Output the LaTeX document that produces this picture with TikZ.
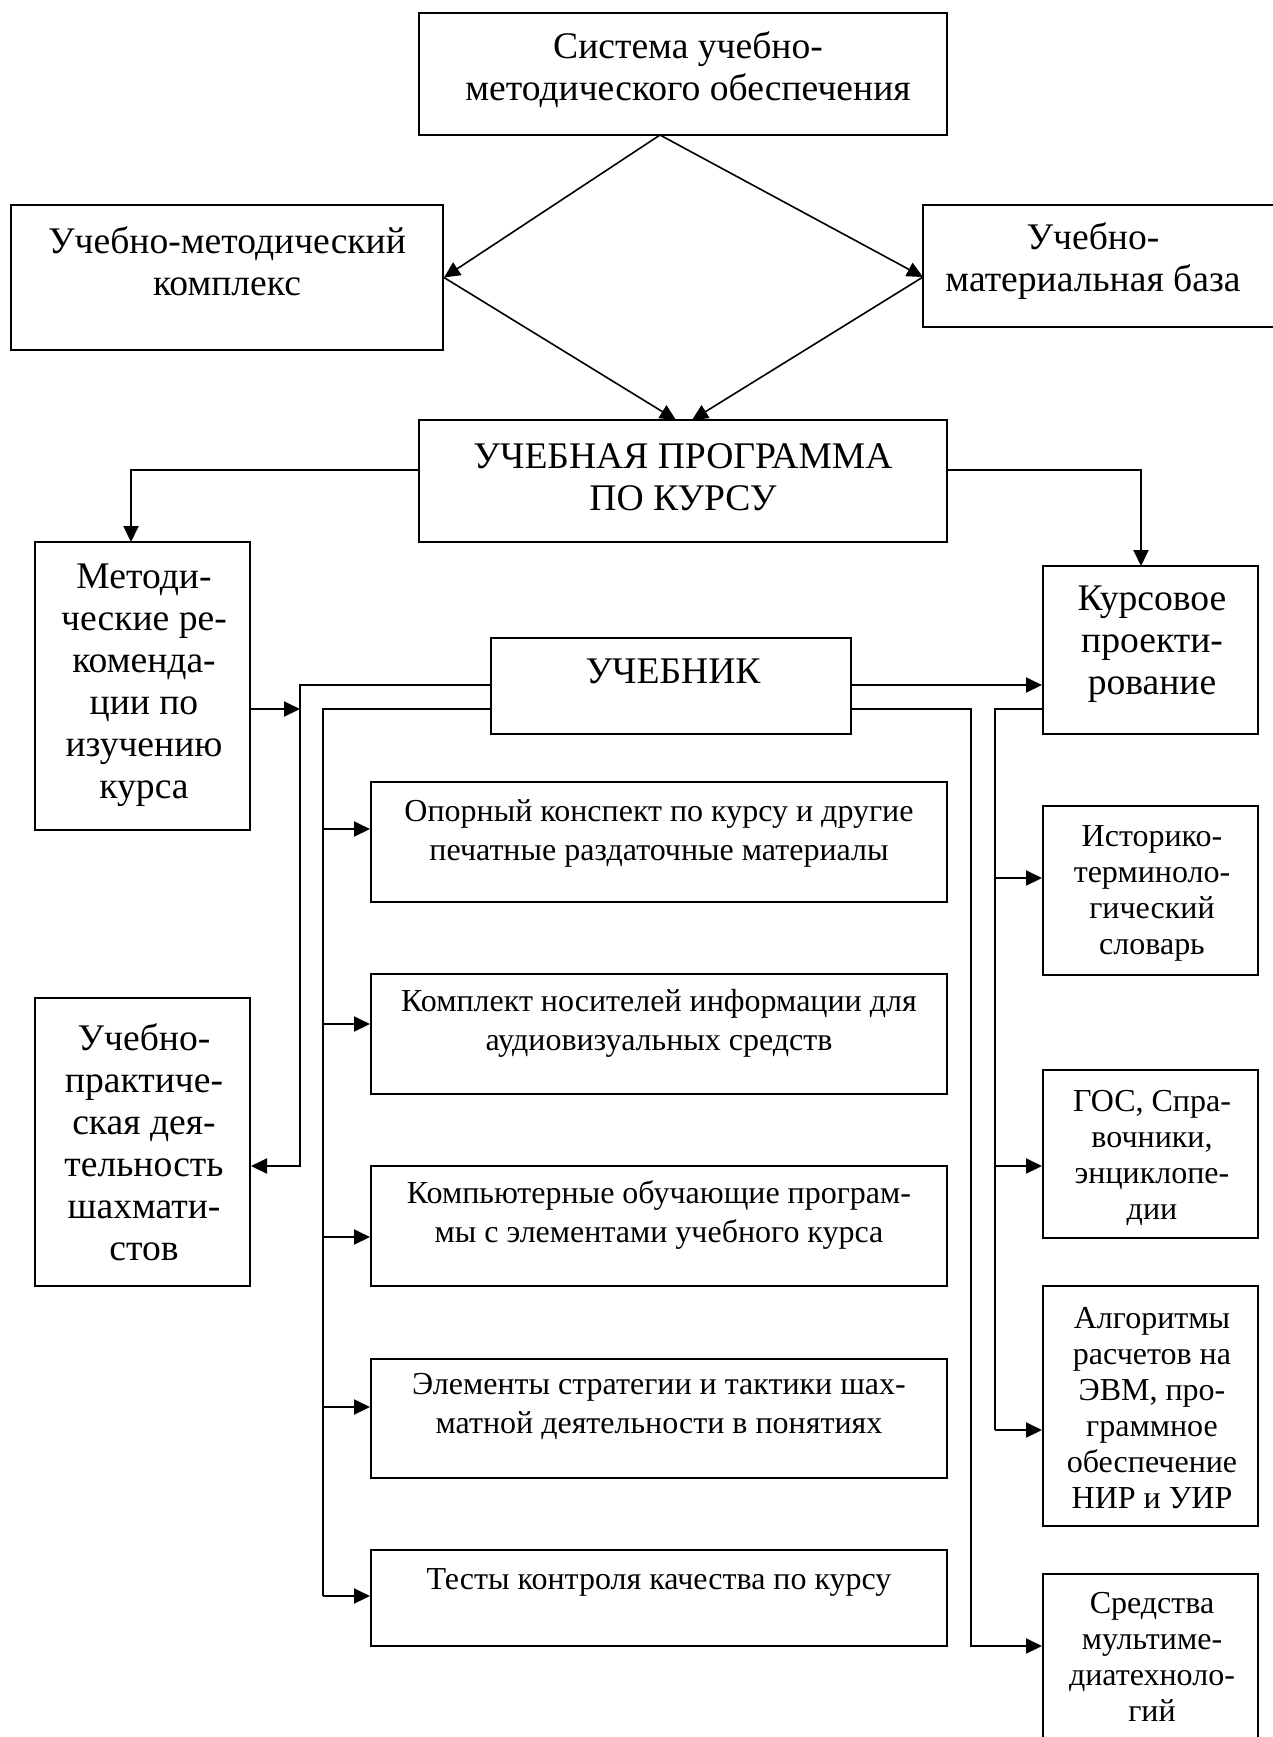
\documentclass[tikz,border=0pt]{standalone}
\usepackage{fontspec}
\setmainfont{Liberation Serif}
\usetikzlibrary{arrows.meta,calc}
\begin{document}
\begin{tikzpicture}[x=0.5pt,y=-0.5pt,
  box/.style={draw, line width=1pt, inner sep=0pt},
  big/.style={font=\fontsize{18.8}{21}\selectfont, align=center, inner sep=0pt},
  mid/.style={font=\fontsize{16}{19.5}\selectfont, align=center, inner sep=0pt},
  sml/.style={font=\fontsize{16}{18}\selectfont, align=center, inner sep=0pt},
  ln/.style={line width=1pt},
  tip/.style={-{Triangle[length=8pt,width=7.5pt]}},
  arr/.style={ln, tip},
  darr/.style={line width=0.8pt, tip},
  wide/.style={box, minimum width=288pt},
  narrow/.style={box, minimum width=107.5pt}]
\useasboundingbox (0,0) rectangle (1273,1737);
% boxes
\node[box, minimum width=264pt, minimum height=61pt] (top) at (683,74) {};
\node[big] (topt) at (688,70) {Система учебно-\\методического обеспечения};
\node[box, minimum width=216pt, minimum height=72.5pt] (umk) at (227,277.5) {};
\node[big] (umkt) at (227,261) {Учебно-методический\\комплекс};
\node[box, minimum width=181pt, minimum height=61pt] (umb) at (1104,266) {};
\node[big] (umbt) at (1093,261) {Учебно-\\материальная база};
\node[box, minimum width=264pt, minimum height=61pt] (up) at (683,481) {};
\node[big] (upt) at (683,477) {УЧЕБНАЯ ПРОГРАММА\\ПО КУРСУ};
\node[narrow, minimum height=144pt] (met) at (142.5,686) {};
\node[big] (mett) at (144,685) {Методи-\\ческие ре-\\коменда-\\ции по\\изучению\\курса};
\node[box, minimum width=180pt, minimum height=48pt] (uch) at (671,686) {};
\node[big] (ucht) at (673,671) {УЧЕБНИК};
\node[narrow, minimum height=84pt] (kurs) at (1150.5,650) {};
\node[big] (kurst) at (1152,644) {Курсовое\\проекти-\\рование};
\node[wide, minimum height=60pt] (op) at (659,842) {};
\node[mid] (opt) at (659,833) {Опорный конспект по курсу и другие\\печатные раздаточные материалы};
\node[wide, minimum height=60pt] (kom) at (659,1034) {};
\node[mid] (komt) at (659,1023) {Комплект носителей информации для\\аудиовизуальных средств};
\node[wide, minimum height=60pt] (komp) at (659,1226) {};
\node[mid] (kompt) at (659,1215) {Компьютерные обучающие програм-\\мы с элементами учебного курса};
\node[wide, minimum height=59.5pt] (el) at (659,1418.5) {};
\node[mid] (elt) at (659,1406) {Элементы стратегии и тактики шах-\\матной деятельности в понятиях};
\node[wide, minimum height=48pt] (test) at (659,1598) {};
\node[mid] (testt) at (659,1582) {Тесты контроля качества по курсу};
\node[narrow, minimum height=84.5pt] (ist) at (1150.5,890.5) {};
\node[sml] (istt) at (1152,893) {Историко-\\терминоло-\\гический\\словарь};
\node[narrow, minimum height=84pt] (gos) at (1150.5,1154) {};
\node[sml] (gost) at (1152,1158) {ГОС, Спра-\\вочники,\\энциклопе-\\дии};
\node[narrow, minimum height=120pt] (alg) at (1150.5,1406) {};
\node[sml] (algt) at (1152,1408) {Алгоритмы\\расчетов на\\ЭВМ, про-\\граммное\\обеспечение\\НИР и УИР};
\node[narrow, minimum height=93pt] (sr) at (1150.5,1667) {};
\node[sml] (srt) at (1152,1657) {Средства\\мультиме-\\диатехноло-\\гий};
\node[narrow, minimum height=144pt] (prak) at (142.5,1142) {};
\node[big] (prakt) at (144,1142) {Учебно-\\практиче-\\ская дея-\\тельность\\шахмати-\\стов};
% coordinates
\coordinate (apex) at (660,135);
\coordinate (umbin) at (923,277);
\coordinate (upinL) at (676,420);
\coordinate (upinR) at (692,420);
\coordinate (yUP) at (0,470);
\coordinate (yA) at (0,685);
\coordinate (yB) at (0,709);
\coordinate (metin) at (131,542);
\coordinate (kursin) at (1141,566);
\coordinate (L1) at (300,685);
\coordinate (L1b) at (300,1166);
\coordinate (L1c) at (300,709);
\coordinate (L2) at (323,709);
\coordinate (L2b) at (323,1596);
\coordinate (R1) at (971,709);
\coordinate (R1b) at (971,1646);
\coordinate (R2) at (995,709);
\coordinate (R2b) at (995,1430);
% connectors
\draw[darr] (apex) -- (umk.east);
\draw[darr] (apex) -- (umbin);
\draw[darr] (umk.east) -- (upinL);
\draw[darr] (umbin) -- (upinR);
\draw[arr] (up.west |- yUP) -| (metin);
\draw[arr] (up.east |- yUP) -| (kursin);
\draw[arr] (uch.west |- yA) -- (L1) -- (L1b) -- (prak.east |- L1b);
\draw[arr] (met.east |- L1c) -- (L1c);
\draw[ln] (uch.west |- yB) -- (L2) -- (L2b);
\foreach \n/\yy in {op/829, kom/1024, komp/1237, el/1407, test/1596}{
  \draw[arr] (323,\yy) -- (\n.west |- 0,\yy);
}
\draw[arr] (uch.east |- yA) -- (kurs.west |- yA);
\draw[arr] (uch.east |- yB) -- (R1) -- (R1b) -- (sr.west |- R1b);
\draw[ln] (kurs.west |- yB) -- (R2) -- (R2b);
\foreach \n/\yy in {ist/878, gos/1166, alg/1430}{
  \draw[arr] (995,\yy) -- (\n.west |- 0,\yy);
}
\end{tikzpicture}
\end{document}
